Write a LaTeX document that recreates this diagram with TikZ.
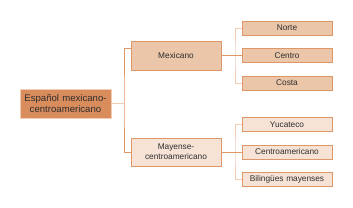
\documentclass[tikz,border=0pt]{standalone}
\usepackage{fontspec}
\setmainfont{Liberation Sans}
\usepackage{xcolor}
\usetikzlibrary{positioning,calc}
\definecolor{TreeDark}{HTML}{D98C5C}
\definecolor{TreeMid}{HTML}{EBC6A9}
\definecolor{TreeLight}{HTML}{F6E3D6}
\definecolor{TreeEdge}{HTML}{DE9768}
\definecolor{TreeLine}{HTML}{F0CDB4}
\definecolor{TreeText}{HTML}{2E2E2E}
\tikzset{
  branch/.style={
    draw=TreeEdge,
    line width=.9pt,
    text=TreeText,
    align=center,
    font=\fontsize{8.3}{10}\selectfont,
    inner sep=1pt,
    minimum width=90pt,
    text width=88pt
  },
  rootbox/.style={branch,fill=TreeDark,draw=TreeLine,
    font=\fontsize{9.6}{11.3}\selectfont,minimum width=91pt,minimum height=29pt},
  midbox/.style={branch,fill=TreeMid,minimum height=29pt},
  lowbox/.style={branch,fill=TreeLight,minimum height=28pt},
  midleaf/.style={branch,fill=TreeMid,minimum height=14pt},
  lowleaf/.style={branch,fill=TreeLight,minimum height=14pt},
  link/.style={draw=TreeEdge,line width=.8pt},
  lightlink/.style={draw=TreeLine,line width=.9pt}
}

\begin{document}
\begin{tikzpicture}[x=1pt,y=-1pt]
  \useasboundingbox[fill=white] (0,0) rectangle (353,208);

  % Root and first level.
  \node[rootbox] (root) at (65.5,103.5) {Español mexicano-\\centroamericano};
  \node[midbox]  (mex)  at (176,55.5)   {Mexicano};
  \node[lowbox]  (may)  at (176,152)    {Mayense-\\centroamericano};

  % Second level, upper group.
  \node[midleaf] (norte)  at (287,28)  {Norte};
  \node[midleaf] (centro) at (287,55.5){Centro};
  \node[midleaf] (costa)  at (287,83)  {Costa};

  % Second level, lower group.
  \node[lowleaf] (yuc) at (287,124.5) {Yucateco};
  \node[lowleaf] (cam) at (287,152)   {Centroamericano};
  \node[lowleaf] (bil) at (287,179.7) {Bilingües mayenses};

  \coordinate (j1) at (124,103.5);
  \coordinate (j2) at (235,55.5);
  \coordinate (j3) at (235,152);

  \draw[lightlink] (root) -- (j1);
  \draw[link] ([yshift=7.5pt]mex.west) -| (j1) |- (may.west);

  \draw[lightlink] (norte.west) -| (j2) |- (costa.west);
  \draw[link] (mex.east) -- (centro.west);

  \draw[lightlink] (yuc.west) -| (j3) |- (bil.west);
  \draw[link] (may.east) -- (cam.west);
\end{tikzpicture}
\end{document}
